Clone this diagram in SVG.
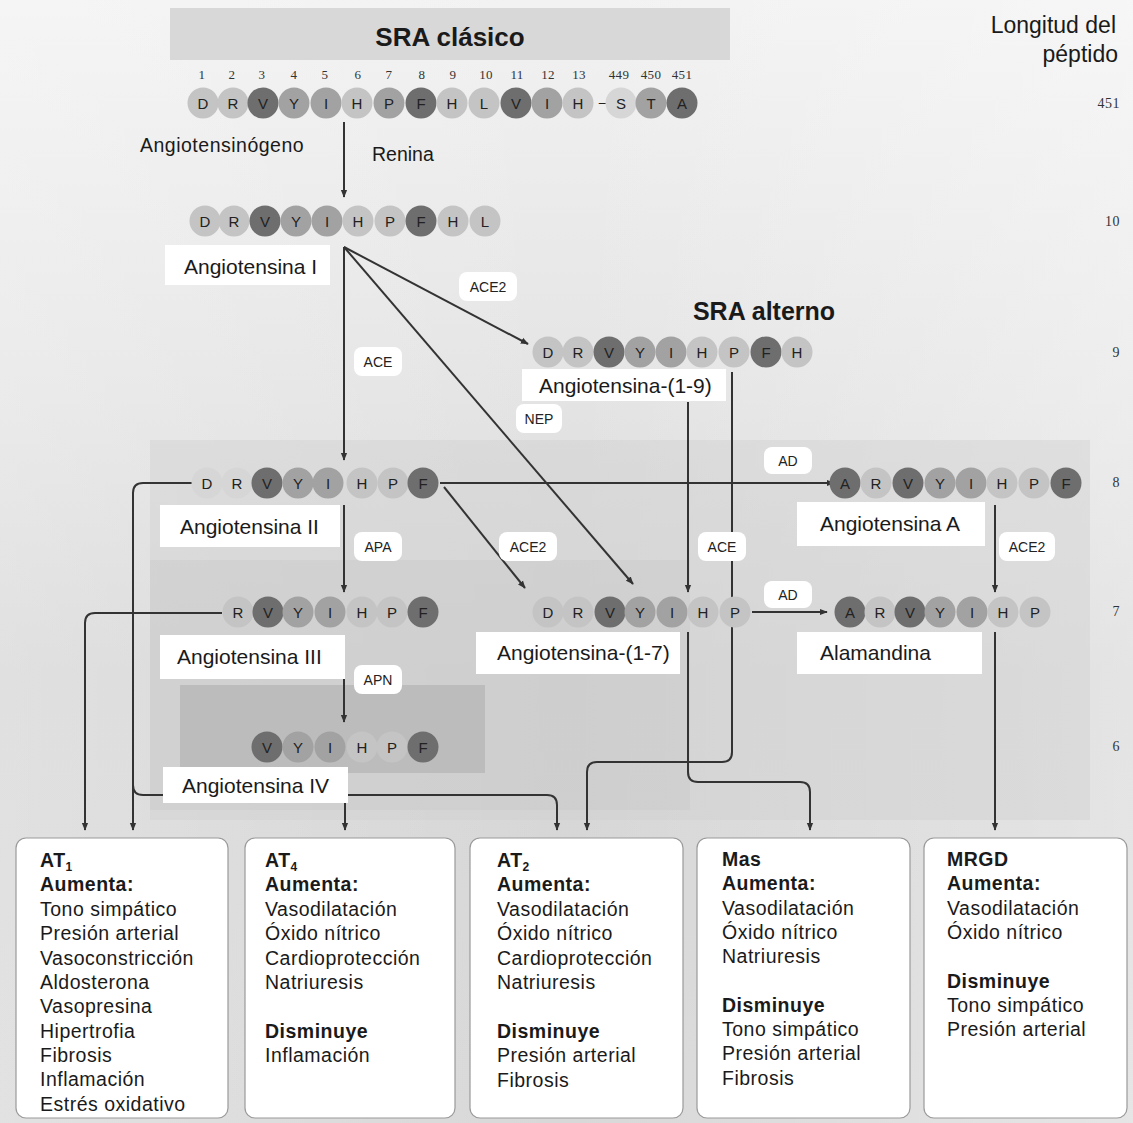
<svg xmlns="http://www.w3.org/2000/svg" width="1133" height="1123" viewBox="0 0 1133 1123">
<defs>
<linearGradient id="bg" x1="0" y1="0" x2="0" y2="1">
<stop offset="0" stop-color="#f2f2f2"/>
<stop offset="0.35" stop-color="#e4e4e4"/>
<stop offset="0.6" stop-color="#d6d6d6"/>
<stop offset="1" stop-color="#d8d8d8"/>
</linearGradient>
<linearGradient id="bgx" x1="0" y1="0" x2="1" y2="0">
<stop offset="0" stop-color="#ffffff" stop-opacity="0.25"/>
<stop offset="0.5" stop-color="#ffffff" stop-opacity="0"/>
<stop offset="1" stop-color="#ffffff" stop-opacity="0.35"/>
</linearGradient>
<marker id="ah" viewBox="0 0 10 10" refX="9" refY="5" markerWidth="8" markerHeight="8" markerUnits="userSpaceOnUse" orient="auto">
<path d="M0,1 L10,5 L0,9 z" fill="#333"/>
</marker>
</defs>
<style>
.t{font-family:"Liberation Sans",Arial,sans-serif;fill:#1a1a1a}
.aa{font-family:"Liberation Sans",Arial,sans-serif;font-size:15px;fill:#222;text-anchor:middle}
.num{font-family:"Liberation Serif","Times New Roman",serif;font-size:13px;fill:#333;text-anchor:middle;letter-spacing:0.3px}
.len{font-family:"Liberation Serif","Times New Roman",serif;font-size:14px;fill:#333;text-anchor:end;letter-spacing:0.5px}
.lab{font-family:"Liberation Sans",Arial,sans-serif;font-size:21px;fill:#1a1a1a}
.enz{font-family:"Liberation Sans",Arial,sans-serif;font-size:14px;fill:#222;text-anchor:middle}
.lbox{fill:#ffffff}
.ebox{fill:#ffffff}
.dk{fill:#6e6e6e}
.md{fill:#a2a2a2}
.lt{fill:#c4c4c4}
.vl{fill:#d6d6d6}
.ln{fill:none;stroke:#333;stroke-width:2}
.rbox{fill:#ffffff;stroke:#9a9a9a;stroke-width:1.2}
.bt{font-family:"Liberation Sans",Arial,sans-serif;font-size:19.5px;fill:#1a1a1a;letter-spacing:0.5px}
.b{font-weight:bold}
</style>
<rect x="0" y="0" width="1133" height="1123" fill="url(#bg)"/>
<rect x="0" y="0" width="1133" height="1123" fill="url(#bgx)"/>
<rect x="170" y="8" width="560" height="52" fill="#d8d8d8"/>
<rect x="150" y="440" width="940" height="380" fill="#d0d0d0" opacity="0.45"/>
<rect x="150" y="560" width="540" height="250" fill="#c8c8c8" opacity="0.4"/>
<rect x="180" y="685" width="305" height="88" fill="#bcbcbc"/>
<text class="t b" x="450" y="46" font-size="26" text-anchor="middle">SRA clásico</text>
<text class="t b" x="764" y="320" font-size="25" text-anchor="middle">SRA alterno</text>
<text class="t" x="1116" y="33" font-size="23" text-anchor="end">Longitud del</text>
<text class="t" x="1118" y="62" font-size="23" text-anchor="end">péptido</text>
<text class="len" x="1120" y="108">451</text>
<text class="len" x="1120" y="226">10</text>
<text class="len" x="1120" y="357">9</text>
<text class="len" x="1120" y="487">8</text>
<text class="len" x="1120" y="616">7</text>
<text class="len" x="1120" y="751">6</text>
<g id="numbers">
<text class="num" x="202" y="79">1</text><text class="num" x="232" y="79">2</text><text class="num" x="262" y="79">3</text><text class="num" x="294" y="79">4</text><text class="num" x="325" y="79">5</text><text class="num" x="358" y="79">6</text><text class="num" x="389" y="79">7</text><text class="num" x="422" y="79">8</text><text class="num" x="453" y="79">9</text><text class="num" x="486" y="79">10</text><text class="num" x="517" y="79">11</text><text class="num" x="548" y="79">12</text><text class="num" x="579" y="79">13</text><text class="num" x="619" y="79">449</text><text class="num" x="651" y="79">450</text><text class="num" x="682" y="79">451</text>
</g>
<g id="connectors">
<path class="ln" d="M344,122 V197" marker-end="url(#ah)"/>
<path class="ln" d="M344,247 V460" marker-end="url(#ah)"/>
<path class="ln" d="M344,247 L528,344" marker-end="url(#ah)"/>
<path class="ln" d="M344,247 L633,584" marker-end="url(#ah)"/>
<path class="ln" d="M440,483 H834" marker-end="url(#ah)"/>
<path class="ln" d="M444,487 L525,588" marker-end="url(#ah)"/>
<path class="ln" d="M344,505 V592" marker-end="url(#ah)"/>
<path class="ln" d="M344,640 V722" marker-end="url(#ah)"/>
<path class="ln" d="M995,505 V592" marker-end="url(#ah)"/>
<path class="ln" d="M688,402 V592" marker-end="url(#ah)"/>
<path class="ln" d="M752,612 H827" marker-end="url(#ah)"/>
<path class="ln" d="M194,483 H143 Q133,483 133,493 V830" marker-end="url(#ah)"/>
<path class="ln" d="M222,613 H95 Q85,613 85,623 V830" marker-end="url(#ah)"/>
<path class="ln" d="M133,785 Q133,795 143,795 H547 Q557,795 557,805 V830" marker-end="url(#ah)"/>
<path class="ln" d="M345,800 V830" marker-end="url(#ah)"/>
<path class="ln" d="M732,372 V752 Q732,762 722,762 H597 Q587,762 587,772 V830" marker-end="url(#ah)"/>
<path class="ln" d="M688,632 V772 Q688,782 698,782 H800 Q810,782 810,792 V830" marker-end="url(#ah)"/>
<path class="ln" d="M995,632 V830" marker-end="url(#ah)"/>
</g>
<g id="enzymes">
<text class="t" x="372" y="161" font-size="19.5">Renina</text>
<text class="t" x="140" y="152" font-size="19.5" letter-spacing="0.5">Angiotensinógeno</text>
<rect class="ebox" x="459" y="272" width="58" height="29" rx="8"/><text class="enz" x="488" y="292">ACE2</text>
<rect class="ebox" x="354" y="347" width="48" height="29" rx="8"/><text class="enz" x="378" y="367">ACE</text>
<rect class="ebox" x="516" y="404" width="46" height="29" rx="8"/><text class="enz" x="539" y="424">NEP</text>
<rect class="ebox" x="764" y="447" width="48" height="27" rx="8"/><text class="enz" x="788" y="466">AD</text>
<rect class="ebox" x="354" y="532" width="48" height="29" rx="8"/><text class="enz" x="378" y="552">APA</text>
<rect class="ebox" x="499" y="532" width="58" height="29" rx="8"/><text class="enz" x="528" y="552">ACE2</text>
<rect class="ebox" x="698" y="532" width="48" height="29" rx="8"/><text class="enz" x="722" y="552">ACE</text>
<rect class="ebox" x="999" y="532" width="56" height="29" rx="8"/><text class="enz" x="1027" y="552">ACE2</text>
<rect class="ebox" x="764" y="581" width="48" height="27" rx="8"/><text class="enz" x="788" y="600">AD</text>
<rect class="ebox" x="354" y="665" width="48" height="29" rx="8"/><text class="enz" x="378" y="685">APN</text>
</g>
<g id="angiotensinogen">
<circle class="lt" cx="203" cy="103" r="15.5"/><text class="aa" x="203" y="108.5">D</text>
<circle class="lt" cx="233" cy="103" r="15.5"/><text class="aa" x="233" y="108.5">R</text>
<circle class="dk" cx="263" cy="103" r="15.5"/><text class="aa" x="263" y="108.5">V</text>
<circle class="md" cx="294" cy="103" r="15.5"/><text class="aa" x="294" y="108.5">Y</text>
<circle class="md" cx="326" cy="103" r="15.5"/><text class="aa" x="326" y="108.5">I</text>
<circle class="lt" cx="357" cy="103" r="15.5"/><text class="aa" x="357" y="108.5">H</text>
<circle class="md" cx="389" cy="103" r="15.5"/><text class="aa" x="389" y="108.5">P</text>
<circle class="dk" cx="421" cy="103" r="15.5"/><text class="aa" x="421" y="108.5">F</text>
<circle class="lt" cx="452" cy="103" r="15.5"/><text class="aa" x="452" y="108.5">H</text>
<circle class="lt" cx="484" cy="103" r="15.5"/><text class="aa" x="484" y="108.5">L</text>
<circle class="dk" cx="516" cy="103" r="15.5"/><text class="aa" x="516" y="108.5">V</text>
<circle class="md" cx="547" cy="103" r="15.5"/><text class="aa" x="547" y="108.5">I</text>
<circle class="lt" cx="578" cy="103" r="15.5"/><text class="aa" x="578" y="108.5">H</text>
<text class="aa" x="603" y="107">–</text>
<circle class="vl" cx="621" cy="103" r="15.5"/><text class="aa" x="621" y="108.5">S</text>
<circle class="md" cx="651" cy="103" r="15.5"/><text class="aa" x="651" y="108.5">T</text>
<circle class="dk" cx="682" cy="103" r="15.5"/><text class="aa" x="682" y="108.5">A</text>
</g>
<g id="ang1">
<circle class="lt" cx="205" cy="221" r="15.5"/><text class="aa" x="205" y="226.5">D</text>
<circle class="lt" cx="234" cy="221" r="15.5"/><text class="aa" x="234" y="226.5">R</text>
<circle class="dk" cx="265" cy="221" r="15.5"/><text class="aa" x="265" y="226.5">V</text>
<circle class="md" cx="296" cy="221" r="15.5"/><text class="aa" x="296" y="226.5">Y</text>
<circle class="md" cx="327" cy="221" r="15.5"/><text class="aa" x="327" y="226.5">I</text>
<circle class="lt" cx="358" cy="221" r="15.5"/><text class="aa" x="358" y="226.5">H</text>
<circle class="lt" cx="390" cy="221" r="15.5"/><text class="aa" x="390" y="226.5">P</text>
<circle class="dk" cx="421" cy="221" r="15.5"/><text class="aa" x="421" y="226.5">F</text>
<circle class="lt" cx="453" cy="221" r="15.5"/><text class="aa" x="453" y="226.5">H</text>
<circle class="lt" cx="485" cy="221" r="15.5"/><text class="aa" x="485" y="226.5">L</text>
<rect class="lbox" x="165" y="245" width="165" height="40"/>
<text class="lab" x="184" y="274">Angiotensina  I</text>
</g>
<g id="ang1-9">
<circle class="lt" cx="548" cy="352" r="15.5"/><text class="aa" x="548" y="357.5">D</text>
<circle class="lt" cx="578" cy="352" r="15.5"/><text class="aa" x="578" y="357.5">R</text>
<circle class="dk" cx="609" cy="352" r="15.5"/><text class="aa" x="609" y="357.5">V</text>
<circle class="md" cx="640" cy="352" r="15.5"/><text class="aa" x="640" y="357.5">Y</text>
<circle class="md" cx="671" cy="352" r="15.5"/><text class="aa" x="671" y="357.5">I</text>
<circle class="lt" cx="702" cy="352" r="15.5"/><text class="aa" x="702" y="357.5">H</text>
<circle class="lt" cx="734" cy="352" r="15.5"/><text class="aa" x="734" y="357.5">P</text>
<circle class="dk" cx="766" cy="352" r="15.5"/><text class="aa" x="766" y="357.5">F</text>
<circle class="lt" cx="797" cy="352" r="15.5"/><text class="aa" x="797" y="357.5">H</text>
<rect class="lbox" x="522" y="369" width="204" height="32"/>
<text class="lab" x="539" y="393">Angiotensina-(1-9)</text>
</g>
<g id="ang2">
<circle class="vl" cx="207" cy="483" r="15.5"/><text class="aa" x="207" y="488.5">D</text>
<circle class="vl" cx="237" cy="483" r="15.5"/><text class="aa" x="237" y="488.5">R</text>
<circle class="dk" cx="267" cy="483" r="15.5"/><text class="aa" x="267" y="488.5">V</text>
<circle class="md" cx="298" cy="483" r="15.5"/><text class="aa" x="298" y="488.5">Y</text>
<circle class="md" cx="328" cy="483" r="15.5"/><text class="aa" x="328" y="488.5">I</text>
<circle class="lt" cx="362" cy="483" r="15.5"/><text class="aa" x="362" y="488.5">H</text>
<circle class="lt" cx="393" cy="483" r="15.5"/><text class="aa" x="393" y="488.5">P</text>
<circle class="dk" cx="423" cy="483" r="15.5"/><text class="aa" x="423" y="488.5">F</text>
<rect class="lbox" x="160" y="505" width="180" height="42"/>
<text class="lab" x="180" y="534">Angiotensina  II</text>
</g>
<g id="angA">
<circle class="dk" cx="845" cy="483" r="15.5"/><text class="aa" x="845" y="488.5">A</text>
<circle class="lt" cx="876" cy="483" r="15.5"/><text class="aa" x="876" y="488.5">R</text>
<circle class="dk" cx="908" cy="483" r="15.5"/><text class="aa" x="908" y="488.5">V</text>
<circle class="md" cx="940" cy="483" r="15.5"/><text class="aa" x="940" y="488.5">Y</text>
<circle class="md" cx="971" cy="483" r="15.5"/><text class="aa" x="971" y="488.5">I</text>
<circle class="lt" cx="1002" cy="483" r="15.5"/><text class="aa" x="1002" y="488.5">H</text>
<circle class="lt" cx="1034" cy="483" r="15.5"/><text class="aa" x="1034" y="488.5">P</text>
<circle class="dk" cx="1066" cy="483" r="15.5"/><text class="aa" x="1066" y="488.5">F</text>
<rect class="lbox" x="797" y="502" width="188" height="44"/>
<text class="lab" x="820" y="531">Angiotensina  A</text>
</g>
<g id="ang3">
<circle class="lt" cx="238" cy="612" r="15.5"/><text class="aa" x="238" y="617.5">R</text>
<circle class="dk" cx="268" cy="612" r="15.5"/><text class="aa" x="268" y="617.5">V</text>
<circle class="md" cx="298" cy="612" r="15.5"/><text class="aa" x="298" y="617.5">Y</text>
<circle class="md" cx="330" cy="612" r="15.5"/><text class="aa" x="330" y="617.5">I</text>
<circle class="lt" cx="362" cy="612" r="15.5"/><text class="aa" x="362" y="617.5">H</text>
<circle class="lt" cx="392" cy="612" r="15.5"/><text class="aa" x="392" y="617.5">P</text>
<circle class="dk" cx="423" cy="612" r="15.5"/><text class="aa" x="423" y="617.5">F</text>
<rect class="lbox" x="160" y="635" width="185" height="44"/>
<text class="lab" x="177" y="664">Angiotensina  III</text>
</g>
<g id="ang1-7">
<circle class="lt" cx="548" cy="612" r="15.5"/><text class="aa" x="548" y="617.5">D</text>
<circle class="lt" cx="578" cy="612" r="15.5"/><text class="aa" x="578" y="617.5">R</text>
<circle class="dk" cx="610" cy="612" r="15.5"/><text class="aa" x="610" y="617.5">V</text>
<circle class="md" cx="640" cy="612" r="15.5"/><text class="aa" x="640" y="617.5">Y</text>
<circle class="md" cx="672" cy="612" r="15.5"/><text class="aa" x="672" y="617.5">I</text>
<circle class="lt" cx="703" cy="612" r="15.5"/><text class="aa" x="703" y="617.5">H</text>
<circle class="lt" cx="735" cy="612" r="15.5"/><text class="aa" x="735" y="617.5">P</text>
<rect class="lbox" x="476" y="632" width="204" height="42"/>
<text class="lab" x="497" y="660">Angiotensina-(1-7)</text>
</g>
<g id="alamandina">
<circle class="dk" cx="850" cy="612" r="15.5"/><text class="aa" x="850" y="617.5">A</text>
<circle class="lt" cx="880" cy="612" r="15.5"/><text class="aa" x="880" y="617.5">R</text>
<circle class="dk" cx="910" cy="612" r="15.5"/><text class="aa" x="910" y="617.5">V</text>
<circle class="md" cx="940" cy="612" r="15.5"/><text class="aa" x="940" y="617.5">Y</text>
<circle class="md" cx="972" cy="612" r="15.5"/><text class="aa" x="972" y="617.5">I</text>
<circle class="lt" cx="1003" cy="612" r="15.5"/><text class="aa" x="1003" y="617.5">H</text>
<circle class="lt" cx="1035" cy="612" r="15.5"/><text class="aa" x="1035" y="617.5">P</text>
<rect class="lbox" x="797" y="632" width="185" height="42"/>
<text class="lab" x="820" y="660">Alamandina</text>
</g>
<g id="ang4">
<circle class="dk" cx="267" cy="747" r="15.5"/><text class="aa" x="267" y="752.5">V</text>
<circle class="md" cx="298" cy="747" r="15.5"/><text class="aa" x="298" y="752.5">Y</text>
<circle class="md" cx="330" cy="747" r="15.5"/><text class="aa" x="330" y="752.5">I</text>
<circle class="lt" cx="362" cy="747" r="15.5"/><text class="aa" x="362" y="752.5">H</text>
<circle class="lt" cx="392" cy="747" r="15.5"/><text class="aa" x="392" y="752.5">P</text>
<circle class="dk" cx="423" cy="747" r="15.5"/><text class="aa" x="423" y="752.5">F</text>
<rect class="lbox" x="163" y="767" width="185" height="36"/>
<text class="lab" x="182" y="793">Angiotensina  IV</text>
</g>
<g id="box-at1">
<rect class="rbox" x="16" y="838" width="212" height="280" rx="10"/>
<text class="bt" x="40" y="867"><tspan class="b">AT<tspan font-size="12" dy="4">1</tspan></tspan></text>
<text class="bt b" x="40" y="891">Aumenta:</text>
<text class="bt" x="40" y="916">Tono simpático</text>
<text class="bt" x="40" y="940">Presión arterial</text>
<text class="bt" x="40" y="965">Vasoconstricción</text>
<text class="bt" x="40" y="989">Aldosterona</text>
<text class="bt" x="40" y="1013">Vasopresina</text>
<text class="bt" x="40" y="1038">Hipertrofia</text>
<text class="bt" x="40" y="1062">Fibrosis</text>
<text class="bt" x="40" y="1086">Inflamación</text>
<text class="bt" x="40" y="1111">Estrés oxidativo</text>
</g>
<g id="box-at4">
<rect class="rbox" x="245" y="838" width="210" height="280" rx="10"/>
<text class="bt" x="265" y="867"><tspan class="b">AT<tspan font-size="12" dy="4">4</tspan></tspan></text>
<text class="bt b" x="265" y="891">Aumenta:</text>
<text class="bt" x="265" y="916">Vasodilatación</text>
<text class="bt" x="265" y="940">Óxido nítrico</text>
<text class="bt" x="265" y="965">Cardioprotección</text>
<text class="bt" x="265" y="989">Natriuresis</text>
<text class="bt b" x="265" y="1038">Disminuye</text>
<text class="bt" x="265" y="1062">Inflamación</text>
</g>
<g id="box-at2">
<rect class="rbox" x="470" y="838" width="213" height="280" rx="10"/>
<text class="bt" x="497" y="867"><tspan class="b">AT<tspan font-size="12" dy="4">2</tspan></tspan></text>
<text class="bt b" x="497" y="891">Aumenta:</text>
<text class="bt" x="497" y="916">Vasodilatación</text>
<text class="bt" x="497" y="940">Óxido nítrico</text>
<text class="bt" x="497" y="965">Cardioprotección</text>
<text class="bt" x="497" y="989">Natriuresis</text>
<text class="bt b" x="497" y="1038">Disminuye</text>
<text class="bt" x="497" y="1062">Presión arterial</text>
<text class="bt" x="497" y="1087">Fibrosis</text>
</g>
<g id="box-mas">
<rect class="rbox" x="697" y="838" width="213" height="280" rx="10"/>
<text class="bt b" x="722" y="866">Mas</text>
<text class="bt b" x="722" y="890">Aumenta:</text>
<text class="bt" x="722" y="915">Vasodilatación</text>
<text class="bt" x="722" y="939">Óxido nítrico</text>
<text class="bt" x="722" y="963">Natriuresis</text>
<text class="bt b" x="722" y="1012">Disminuye</text>
<text class="bt" x="722" y="1036">Tono simpático</text>
<text class="bt" x="722" y="1060">Presión arterial</text>
<text class="bt" x="722" y="1085">Fibrosis</text>
</g>
<g id="box-mrgd">
<rect class="rbox" x="924" y="838" width="203" height="280" rx="10"/>
<text class="bt b" x="947" y="866">MRGD</text>
<text class="bt b" x="947" y="890">Aumenta:</text>
<text class="bt" x="947" y="915">Vasodilatación</text>
<text class="bt" x="947" y="939">Óxido nítrico</text>
<text class="bt b" x="947" y="988">Disminuye</text>
<text class="bt" x="947" y="1012">Tono simpático</text>
<text class="bt" x="947" y="1036">Presión arterial</text>
</g>
</svg>
